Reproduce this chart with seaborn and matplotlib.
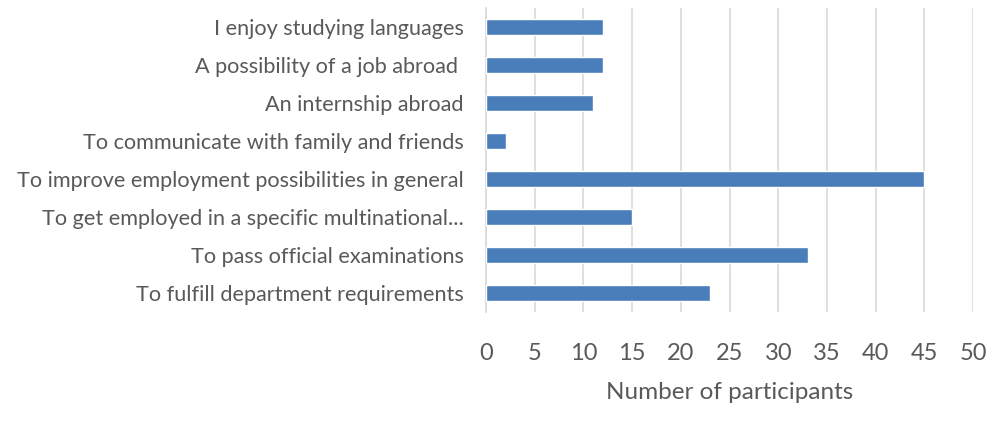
import matplotlib
matplotlib.use("Agg")
import matplotlib.pyplot as plt
import seaborn as sns
import pandas as pd

reasons = [
    "I enjoy studying languages",
    "A possibility of a job abroad ",
    "An internship abroad",
    "To communicate with family and friends",
    "To improve employment possibilities in general",
    "To get employed in a specific multinational...",
    "To pass official examinations",
    "To fulfill department requirements",
]
participants = [12, 12, 11, 2, 45, 15, 33, 23]
x_ticks = [0, 5, 10, 15, 20, 25, 30, 35, 40, 45, 50]

df = pd.DataFrame({"reason": reasons, "participants": participants})

sns.set_theme(style="white")
plt.rcParams["font.family"] = ["Lato", "DejaVu Sans"]

text_color = "#595959"
fig = plt.figure(figsize=(9.94, 4.21), dpi=100)
ax = fig.add_axes([0.489, 0.259, 0.490, 0.722])

sns.barplot(data=df, y="reason", x="participants", orient="h",
            color="#4a7ebb", saturation=1, width=0.4, ax=ax, zorder=3)

ax.set_xlim(0, 50)
ax.set_xticks(x_ticks)
ax.set_xticklabels([str(t) for t in x_ticks])
ax.xaxis.grid(True, color="#d9d9d9", linewidth=1.2, zorder=0)
ax.set_axisbelow(True)
for side in ["top", "right", "bottom"]:
    ax.spines[side].set_visible(False)
ax.spines["left"].set_color("#d9d9d9")
ax.spines["left"].set_linewidth(1.2)

ax.tick_params(axis="y", length=0, pad=16, labelsize=15.6, labelcolor=text_color)
ax.tick_params(axis="x", length=0, pad=22, labelsize=17, labelcolor=text_color)
ax.set_ylabel("")
ax.set_xlabel("Number of participants", fontsize=17.5, color=text_color, labelpad=13)

fig.savefig("out.png", dpi=100)
